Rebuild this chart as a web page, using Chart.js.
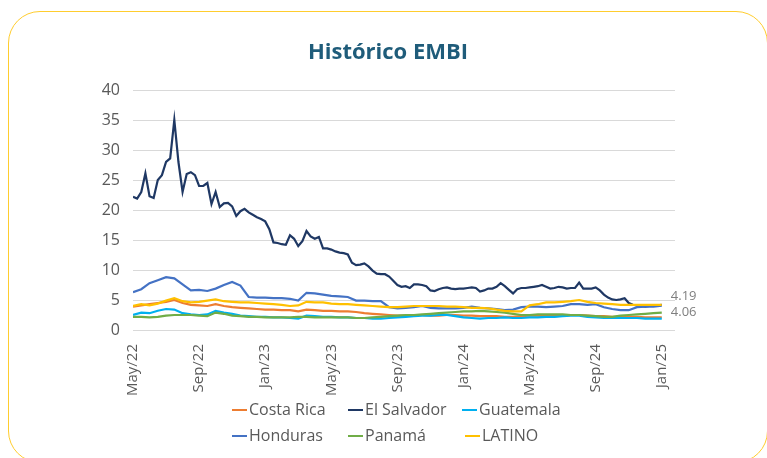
<!DOCTYPE html>
<html>
<head>
<meta charset="utf-8">
<script src="https://cdn.jsdelivr.net/npm/chart.js@4"></script>
<style>
  html, body { margin: 0; padding: 0; background: #fff; overflow: hidden; }
  #card {
    position: absolute; left: 8px; top: 11px; width: 760px; height: 452px;
    border: 1.5px solid #FFCD2E; border-radius: 32px; box-sizing: border-box;
  }
  #myChart { position: absolute; left: 0; top: 0; }
</style>
</head>
<body>
<div id="card"></div>
<canvas id="myChart" width="767" height="458"></canvas>
<script>
// x axis: months counted from May 2022, ticks every 4 months
const tickLabels = ["May/22", "Sep/22", "Jan/23", "May/23", "Sep/23", "Jan/24", "May/24", "Sep/24", "Jan/25"];
const seriesNames = ["Costa Rica", "El Salvador", "Guatemala", "Honduras", "Panamá", "LATINO"];
const seriesColors = ["#ED7D31", "#1F3864", "#00B0F0", "#4472C4", "#70AD47", "#FFC000"];

// El Salvador read every quarter month, the others every half month
const elSalvador = [
  22.2, 21.9, 23.0, 26.1, 22.3, 22.0, 25.0, 25.8,
  28.0, 28.6, 35.0, 28.0, 23.0, 26.0, 26.3, 25.8,
  24.0, 24.0, 24.5, 21.0, 23.0, 20.5, 21.1, 21.2,
  20.6, 19.0, 19.8, 20.2, 19.6, 19.2, 18.8, 18.5,
  18.1, 16.8, 14.6, 14.5, 14.3, 14.2, 15.8, 15.2,
  14.0, 14.8, 16.5, 15.6, 15.2, 15.5, 13.6, 13.6,
  13.4, 13.1, 12.9, 12.8, 12.6, 11.2, 10.8, 10.9,
  11.1, 10.6, 9.9, 9.4, 9.3, 9.3, 8.9, 8.2,
  7.5, 7.2, 7.3, 7.0, 7.6, 7.6, 7.5, 7.3,
  6.6, 6.5, 6.8, 7.0, 7.1, 6.9, 6.8, 6.9,
  6.9, 7.0, 7.1, 7.0, 6.4, 6.6, 6.9, 6.9,
  7.2, 7.8, 7.3, 6.7, 6.1, 6.8, 7.0, 7.0,
  7.1, 7.2, 7.3, 7.5, 7.2, 6.9, 7.0, 7.2,
  7.1, 6.9, 7.0, 7.0, 7.9, 6.9, 6.9, 6.9,
  7.1, 6.6, 5.9, 5.4, 5.1, 5.0, 5.1, 5.3,
  4.5, 4.2, 4.1, 4.0, 3.9, 4.0, 4.0, 4.1,
  4.19
];
const honduras = [
  6.3, 6.8, 7.8, 8.3, 8.8, 8.6, 7.6, 6.6,
  6.7, 6.5, 6.9, 7.5, 8.0, 7.4, 5.5, 5.4,
  5.4, 5.3, 5.3, 5.2, 4.9, 6.2, 6.1, 5.9,
  5.7, 5.6, 5.5, 4.9, 4.9, 4.8, 4.8, 3.8,
  3.6, 3.7, 3.8, 4.0, 3.7, 3.6, 3.6, 3.6,
  3.7, 3.9, 3.7, 3.6, 3.5, 3.3, 3.4, 3.8,
  3.9, 3.9, 3.8, 3.9, 4.0, 4.3, 4.3, 4.2,
  4.3, 3.8, 3.5, 3.3, 3.3, 3.8, 3.9, 3.9,
  4.06
];
const latino = [
  4.0, 4.3, 4.1, 4.4, 4.9, 5.3, 4.8, 4.6,
  4.7, 4.9, 5.1, 4.8, 4.7, 4.6, 4.6, 4.5,
  4.4, 4.3, 4.2, 4.0, 4.1, 4.7, 4.6, 4.6,
  4.4, 4.3, 4.3, 4.2, 4.1, 4.0, 3.9, 3.8,
  3.8, 3.9, 4.0, 4.0, 4.0, 4.0, 3.9, 3.9,
  3.8, 3.7, 3.7, 3.6, 3.4, 3.2, 3.1, 3.1,
  4.1, 4.3, 4.6, 4.6, 4.7, 4.8, 5.0, 4.7,
  4.5, 4.4, 4.3, 4.2, 4.2, 4.2, 4.2, 4.2,
  4.2
];
const costaRica = [
  3.9, 4.1, 4.3, 4.5, 4.7, 5.0, 4.5, 4.2,
  4.1, 4.0, 4.3, 4.0, 3.8, 3.7, 3.6, 3.5,
  3.4, 3.4, 3.3, 3.3, 3.1, 3.4, 3.3, 3.2,
  3.2, 3.1, 3.1, 3.0, 2.8, 2.7, 2.6, 2.5,
  2.4, 2.4, 2.5, 2.5, 2.4, 2.4, 2.5, 2.5,
  2.4, 2.4, 2.3, 2.3, 2.3, 2.2, 2.2, 2.3,
  2.4, 2.4, 2.3, 2.3, 2.4, 2.5, 2.5, 2.4,
  2.3, 2.3, 2.2, 2.2, 2.2, 2.2, 2.1, 2.1,
  2.1
];
const guatemala = [
  2.5, 2.9, 2.8, 3.2, 3.5, 3.4, 2.8, 2.6,
  2.5, 2.6, 3.2, 2.9, 2.7, 2.4, 2.3, 2.2,
  2.2, 2.1, 2.1, 2.0, 1.9, 2.4, 2.3, 2.2,
  2.2, 2.1, 2.1, 2.0, 2.0, 1.9, 1.9, 2.0,
  2.1, 2.2, 2.3, 2.4, 2.4, 2.5, 2.5, 2.3,
  2.1, 2.0, 1.9, 2.0, 2.0, 2.1, 2.0, 2.0,
  2.1, 2.1, 2.2, 2.2, 2.3, 2.4, 2.4, 2.2,
  2.1, 2.0, 2.0, 2.0, 2.0, 2.0, 1.9, 1.9,
  1.9
];
const panama = [
  2.2, 2.2, 2.1, 2.2, 2.4, 2.5, 2.5, 2.5,
  2.4, 2.3, 2.9, 2.7, 2.4, 2.3, 2.2, 2.2,
  2.1, 2.1, 2.1, 2.1, 2.2, 2.2, 2.1, 2.1,
  2.1, 2.1, 2.1, 2.0, 2.0, 2.1, 2.2, 2.3,
  2.4, 2.5, 2.5, 2.6, 2.7, 2.8, 2.9, 3.0,
  3.1, 3.1, 3.2, 3.1, 3.0, 2.9, 2.7, 2.5,
  2.5, 2.6, 2.6, 2.6, 2.6, 2.5, 2.5, 2.4,
  2.3, 2.2, 2.2, 2.4, 2.5, 2.6, 2.7, 2.8,
  2.9
];

const allSeries = [costaRica, elSalvador, guatemala, honduras, panama, latino];
const steps = [0.5, 0.25, 0.5, 0.5, 0.5, 0.5];

const textGray = "#595959";
const font = "'Open Sans', sans-serif";

const toPoints = (values, step) => values.map((v, i) => ({ x: i * step, y: v }));

// legend + end labels + title drawn by hand to get the Excel layout
const customDraw = {
  id: "customDraw",
  afterDraw(chart) {
    const c = chart.ctx;
    c.save();
    c.font = "16px " + font;
    c.textBaseline = "middle";
    const cols = [232, 348, 462];
    const rows = [410, 436];
    seriesNames.forEach((name, i) => {
      const x = cols[i % 3] + (i === 5 ? 3 : 0);
      const y = rows[Math.floor(i / 3)];
      c.strokeStyle = seriesColors[i];
      c.lineWidth = 2;
      c.beginPath();
      c.moveTo(x, y);
      c.lineTo(x + 15, y);
      c.stroke();
      c.fillStyle = textGray;
      c.fillText(name, x + 17, y);
    });

    // end value labels
    const xs = chart.scales.x, ys = chart.scales.y;
    c.font = "13px " + font;
    c.fillStyle = "#7F7F7F";
    const lastX = xs.getPixelForValue(32) + 9;
    c.fillText(elSalvador[elSalvador.length - 1].toFixed(2), lastX, ys.getPixelForValue(4.19) - 9);
    c.fillText(honduras[honduras.length - 1].toFixed(2), lastX, ys.getPixelForValue(4.06) + 7);

    // title
    c.font = "bold 22px " + font;
    c.fillStyle = "#1F5C7A";
    c.textAlign = "center";
    c.fillText("Histórico EMBI", 388, 53);
    c.restore();
  }
};

const ctx = document.getElementById("myChart").getContext("2d");
const myChart = new Chart(ctx, {
  type: "line",
  data: {
    datasets: seriesNames.map((name, i) => ({
      label: name,
      data: toPoints(allSeries[i], steps[i]),
      borderColor: seriesColors[i],
      backgroundColor: seriesColors[i],
      borderWidth: 2.2,
      pointRadius: 0,
      tension: 0,
      order: 6 - i
    }))
  },
  options: {
    responsive: false,
    animation: false,
    layout: { padding: { left: 80, right: 92, top: 90, bottom: 0 } },
    plugins: {
      legend: { display: false },
      tooltip: { enabled: false }
    },
    scales: {
      x: {
        type: "linear",
        min: 0,
        max: 32.8,
        grid: { display: false },
        border: { display: false },
        afterFit: (s) => { s.height = 128; },
        afterBuildTicks: (s) => { s.ticks = tickLabels.map((_, i) => ({ value: i * 4 })); },
        ticks: {
          autoSkip: false,
          minRotation: 90,
          maxRotation: 90,
          padding: 6,
          color: textGray,
          font: { family: font, size: 15 },
          callback: (v) => tickLabels[Math.round(v / 4)]
        }
      },
      y: {
        min: 0,
        max: 40,
        afterFit: (s) => { s.width = 53; },
        grid: { color: "#D9D9D9", drawTicks: false },
        border: { display: false },
        ticks: {
          stepSize: 5,
          padding: 13,
          color: textGray,
          font: { family: font, size: 16 }
        }
      }
    }
  },
  plugins: [customDraw]
});
</script>
</body>
</html>
